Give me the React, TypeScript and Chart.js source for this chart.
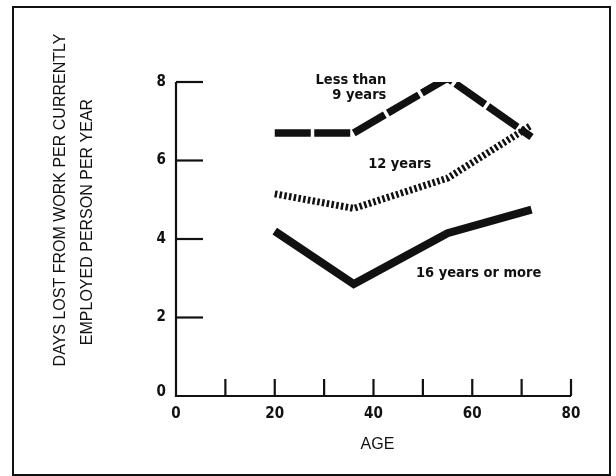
import React, { useEffect, useRef } from "react";
import { Chart, registerables } from "chart.js";

Chart.register(...registerables);

const ages = [20, 36, 55, 72];
const lessThan9 = [6.7, 6.7, 8.1, 6.6];
const twelveYears = [5.15, 4.78, 5.55, 6.9];
const sixteenPlus = [4.2, 2.85, 4.15, 4.75];

const xTickValues = [0, 10, 20, 30, 40, 50, 60, 70, 80];
const xTickLabels = ["0", "", "20", "", "40", "", "60", "", "80"];
const yTickValues = [0, 2, 4, 6, 8];
const yTickLabels = ["0", "2", "4", "6", "8"];

const yTitleLines = ["DAYS LOST FROM WORK PER CURRENTLY", "EMPLOYED PERSON PER YEAR"];
const xTitle = "AGE";
const seriesLabels = [
  { lines: ["Less than", "9 years"], x: 42.6, y: 8.04, align: "right" },
  { lines: ["12 years"], x: 45.3, y: 5.9, align: "center" },
  { lines: ["16 years or more"], x: 61.3, y: 3.12, align: "center" },
];

const INK = "#111";
const condensedBold = 'bold 15px "DejaVu Sans Condensed", "DejaVu Sans", sans-serif';

const decorPlugin = {
  id: "decor",
  afterDraw(chart: any) {
    const { ctx } = chart;
    const xs = chart.scales.x;
    const ys = chart.scales.y;
    ctx.save();
    // frame
    ctx.strokeStyle = INK;
    ctx.lineWidth = 2;
    ctx.strokeRect(13, 7, 597, 468);

    const x0 = xs.getPixelForValue(0);
    const x80 = xs.getPixelForValue(80);
    const y0 = ys.getPixelForValue(0);
    const y8 = ys.getPixelForValue(8);
    // axes
    ctx.lineWidth = 2.2;
    ctx.beginPath();
    ctx.moveTo(x0, y8);
    ctx.lineTo(x0, y0);
    ctx.lineTo(x80, y0);
    ctx.stroke();
    // y ticks
    yTickValues.forEach((v) => {
      if (v === 0) return;
      const py = ys.getPixelForValue(v);
      ctx.beginPath();
      ctx.moveTo(x0, py);
      ctx.lineTo(x0 + 27, py);
      ctx.stroke();
    });
    // x ticks
    xTickValues.forEach((v) => {
      if (v === 0) return;
      const px = xs.getPixelForValue(v);
      ctx.beginPath();
      ctx.moveTo(px, y0);
      ctx.lineTo(px, y0 - 17);
      ctx.stroke();
    });
    // tick labels
    ctx.fillStyle = INK;
    ctx.font = condensedBold;
    ctx.textBaseline = "middle";
    ctx.textAlign = "right";
    yTickValues.forEach((v, i) => {
      const py = ys.getPixelForValue(v);
      ctx.fillText(yTickLabels[i], x0 - 10, v === 0 ? py - 4 : py);
    });
    ctx.textAlign = "center";
    xTickValues.forEach((v, i) => {
      if (!xTickLabels[i]) return;
      ctx.fillText(xTickLabels[i], xs.getPixelForValue(v), y0 + 18);
    });
    // axis titles
    ctx.font = '16px "Liberation Sans", Arial, sans-serif';
    ctx.fillText(xTitle, xs.getPixelForValue(40.8), y0 + 49);
    ctx.save();
    ctx.translate(61, 200);
    ctx.rotate(-Math.PI / 2);
    ctx.fillText(yTitleLines[0], 0, 0);
    ctx.restore();
    ctx.save();
    ctx.translate(88, 222);
    ctx.rotate(-Math.PI / 2);
    ctx.fillText(yTitleLines[1], 0, 0);
    ctx.restore();
    // series labels
    ctx.font = 'bold 14.5px "DejaVu Sans Condensed", "DejaVu Sans", sans-serif';
    seriesLabels.forEach((s) => {
      ctx.textAlign = s.align as CanvasTextAlign;
      const px = xs.getPixelForValue(s.x);
      const py = ys.getPixelForValue(s.y);
      s.lines.forEach((t, i) => ctx.fillText(t, px, py + i * 15));
    });
    ctx.restore();
  },
};

export default function App() {
  const ref = useRef<HTMLCanvasElement>(null);
  useEffect(() => {
    document.body.style.margin = "0";
    const mk = (ys: number[]) => ages.map((a, i) => ({ x: a, y: ys[i] }));
    const chart = new Chart(ref.current!, {
      type: "line",
      data: {
        datasets: [
          {
            label: "Less than 9 years",
            data: mk(lessThan9),
            borderColor: INK,
            borderWidth: 7.5,
            borderDash: [36, 3.5],
            borderCapStyle: "butt",
            borderJoinStyle: "miter",
            pointRadius: 0,
            tension: 0,
          },
          {
            label: "12 years",
            data: mk(twelveYears),
            borderColor: INK,
            borderWidth: 7,
            borderDash: [2.5, 2.3],
            borderCapStyle: "butt",
            pointRadius: 0,
            tension: 0,
          },
          {
            label: "16 years or more",
            data: mk(sixteenPlus),
            borderColor: INK,
            borderWidth: 8,
            borderCapStyle: "butt",
            borderJoinStyle: "miter",
            pointRadius: 0,
            tension: 0,
          },
        ],
      },
      options: {
        animation: false,
        responsive: false,
        devicePixelRatio: 1,
        layout: { padding: { left: 176, right: 45, top: 82, bottom: 80 } },
        plugins: { legend: { display: false }, tooltip: { enabled: false } },
        scales: {
          x: { type: "linear", min: 0, max: 80, display: false },
          y: { type: "linear", min: 0, max: 8, display: false },
        },
      },
      plugins: [decorPlugin],
    });
    return () => chart.destroy();
  }, []);
  return (
    <div style={{ position: "absolute", left: 0, top: 0, width: 616, height: 476, background: "#fff" }}>
      <canvas ref={ref} width={616} height={476} />
    </div>
  );
}
